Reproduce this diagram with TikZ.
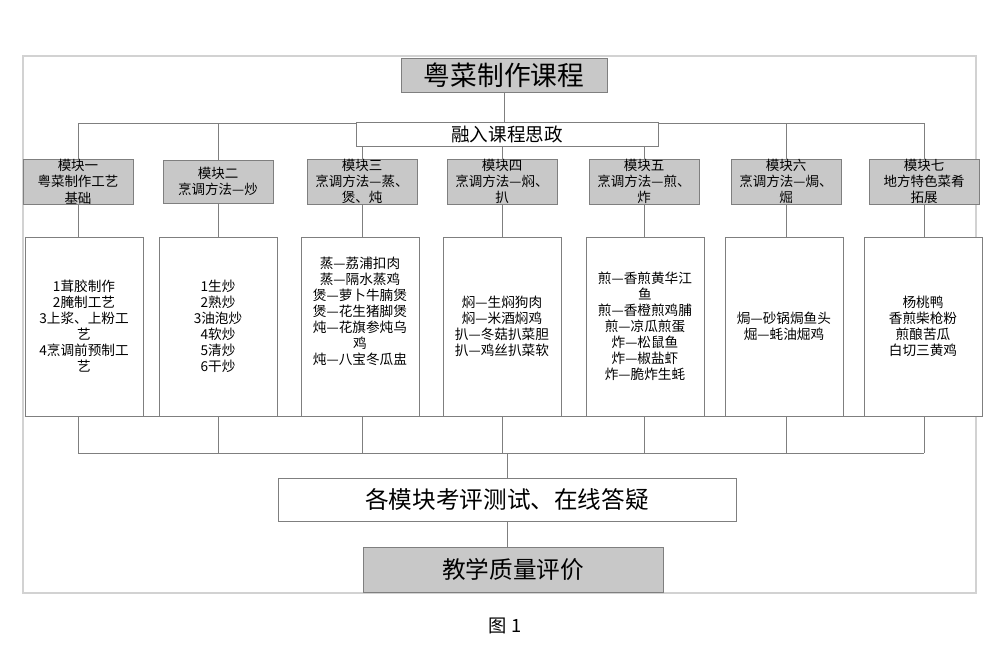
\documentclass[tikz,border=0pt]{standalone}
\usepackage{fontspec}
\newfontfamily\cjk{Noto Sans CJK SC}
\usepackage{tikz}
\usetikzlibrary{calc}
\usetikzlibrary{backgrounds}
\definecolor{linegray}{HTML}{7F7F7F}
\definecolor{boxgray}{HTML}{C8C8C8}
\definecolor{framegray}{HTML}{D2D2D2}

\begin{document}
\begin{tikzpicture}[x=0.025cm,y=-0.025cm,
  line/.style={color=linegray,line width=0.6pt},
  headbox/.style={draw=linegray,fill=boxgray,line width=0.6pt,inner sep=0pt,font=\cjk},
  plainbox/.style={draw=linegray,fill=white,line width=0.6pt,inner sep=0pt,font=\cjk},
  modbox/.style={headbox,minimum width=2.75cm,minimum height=1.075cm,align=center,font=\cjk\fontsize{9.6}{11.6}\selectfont},
  dishbox/.style={plainbox,minimum width=2.95cm,minimum height=4.475cm,align=center,font=\cjk\fontsize{9.7}{11.4}\selectfont}]
\useasboundingbox (0,0) rectangle (1000,658);
\draw[color=framegray,line width=1.6pt] (23,56) rectangle (976,593);

\node[headbox,minimum width=5.15cm,minimum height=0.85cm,font=\cjk\fontsize{19}{22}\selectfont] (course) at (504,75.5) {粤菜制作课程};
\node[plainbox,minimum width=7.55cm,minimum height=0.58cm,font=\cjk\fontsize{13.2}{15}\selectfont] (sizheng) at (507,134.5) {融入课程思政};
\coordinate (bar) at (504,123);
\coordinate (low1) at (504,416);
\coordinate (low2) at (504,453);

% modules
\node[modbox] (m1) at (78,181.5) {模块一\\粤菜制作工艺\\基础};
\node[modbox] (m2) at (218,181.5) {模块二\\烹调方法—炒};
\node[modbox] (m3) at (362,181.5) {模块三\\烹调方法—蒸、\\煲、炖};
\node[modbox] (m4) at (502,181.5) {模块四\\烹调方法—焖、\\扒};
\node[modbox] (m5) at (644,181.5) {模块五\\烹调方法—煎、\\炸};
\node[modbox] (m6) at (786,181.5) {模块六\\烹调方法—焗、\\煀};
\node[modbox] (m7) at (924,181.5) {模块七\\地方特色菜肴\\拓展};

% dishes
\node[dishbox] (b1) at (84,326.5) {1茸胶制作\\2腌制工艺\\3上浆、上粉工\\艺\\4烹调前预制工\\艺};
\node[dishbox] (b2) at (218,326.5) {1生炒\\2熟炒\\3油泡炒\\4软炒\\5清炒\\6干炒};
\node[dishbox] (b3) at (360,326.5) {蒸—荔浦扣肉\\蒸—隔水蒸鸡\\煲—萝卜牛腩煲\\煲—花生猪脚煲\\炖—花旗参炖乌\\鸡\\炖—八宝冬瓜盅\\~\\~};
\node[dishbox] (b4) at (502,326.5) {焖—生焖狗肉\\焖—米酒焖鸡\\扒—冬菇扒菜胆\\扒—鸡丝扒菜软};
\node[dishbox] (b5) at (645,326.5) {煎—香煎黄华江\\鱼\\煎—香橙煎鸡脯\\煎—凉瓜煎蛋\\炸—松鼠鱼\\炸—椒盐虾\\炸—脆炸生蚝};
\node[dishbox] (b6) at (784,326.5) {焗—砂锅焗鱼头\\煀—蚝油煀鸡};
\node[dishbox] (b7) at (923,326.5) {杨桃鸭\\香煎柴枪粉\\煎酿苦瓜\\白切三黄鸡};

\node[plainbox,minimum width=11.45cm,minimum height=1.075cm,font=\cjk\fontsize{16.8}{19}\selectfont] (exam) at (507,499.5) {各模块考评测试、在线答疑};
\node[headbox,minimum width=7.5cm,minimum height=1.125cm,font=\cjk\fontsize{16.8}{19}\selectfont] (quality) at (513,569.5) {教学质量评价};

\node[font=\cjk\fontsize{13}{15}\selectfont] (caption) at (505,626) {图 1};

\begin{scope}[on background layer]
\draw[line] (course.south) -- (course.south |- bar);
\draw[line] (m1.north |- bar) -- (m7.north |- bar);
\draw[line] (m1.north) -- (m1.north |- bar);
\draw[line] (m2.north) -- (m2.north |- bar);
\draw[line] (m3.north) -- (m3.north |- bar);
\draw[line] (m4.north) -- (m4.north |- bar);
\draw[line] (m5.north) -- (m5.north |- bar);
\draw[line] (m6.north) -- (m6.north |- bar);
\draw[line] (m7.north) -- (m7.north |- bar);
\draw[line] (m1.south) -- (m1.south |- b1.north);
\draw[line] (m2.south) -- (m2.south |- b2.north);
\draw[line] (m3.south) -- (m3.south |- b3.north);
\draw[line] (m4.south) -- (m4.south |- b4.north);
\draw[line] (m5.south) -- (m5.south |- b5.north);
\draw[line] (m6.south) -- (m6.south |- b6.north);
\draw[line] (m7.south) -- (m7.south |- b7.north);
\draw[line] (b1.south west) -- (b7.south east);
\draw[line] (m1 |- low1) -- (m1 |- low2);
\draw[line] (m2 |- low1) -- (m2 |- low2);
\draw[line] (m3 |- low1) -- (m3 |- low2);
\draw[line] (m4 |- low1) -- (m4 |- low2);
\draw[line] (m5 |- low1) -- (m5 |- low2);
\draw[line] (m6 |- low1) -- (m6 |- low2);
\draw[line] (m7 |- low1) -- (m7 |- low2);
\draw[line] (m1 |- low2) -- (m7 |- low2);
\draw[line] (exam.north |- low2) -- (exam.north);
\draw[line] (exam.south) -- (exam.south |- quality.north);
\end{scope}
\end{tikzpicture}
\end{document}
